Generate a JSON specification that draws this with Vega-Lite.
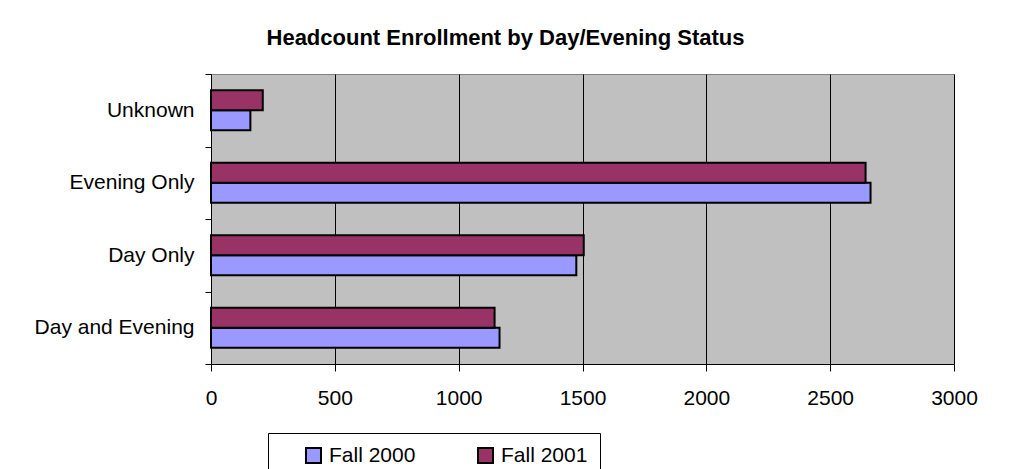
{
  "$schema": "https://vega.github.io/schema/vega-lite/v6.json",
  "width": 743,
  "height": 290,
  "autosize": {"type": "none"},
  "padding": {"left": 211, "top": 74, "right": 56, "bottom": 105},
  "background": "white",
  "title": {
    "text": "Headcount Enrollment by Day/Evening Status",
    "font": "Liberation Sans",
    "fontSize": 22,
    "fontWeight": "bold",
    "color": "black",
    "anchor": "middle",
    "dx": -77,
    "offset": 13
  },
  "data": {
    "values": [
      {"status": "Unknown", "term": "Fall 2000", "count": 159},
      {"status": "Unknown", "term": "Fall 2001", "count": 209},
      {"status": "Evening Only", "term": "Fall 2000", "count": 2663},
      {"status": "Evening Only", "term": "Fall 2001", "count": 2643},
      {"status": "Day Only", "term": "Fall 2000", "count": 1475},
      {"status": "Day Only", "term": "Fall 2001", "count": 1505},
      {"status": "Day and Evening", "term": "Fall 2000", "count": 1165},
      {"status": "Day and Evening", "term": "Fall 2001", "count": 1145}
    ]
  },
  "mark": {"type": "bar", "stroke": "black", "strokeWidth": 2},
  "encoding": {
    "y": {
      "field": "status",
      "type": "nominal",
      "sort": ["Unknown", "Evening Only", "Day Only", "Day and Evening"],
      "scale": {"paddingInner": 0, "paddingOuter": 0},
      "axis": {
        "title": null,
        "tickBand": "extent",
        "tickSize": 6,
        "tickColor": "black",
        "domainColor": "black",
        "labelPadding": 11,
        "labelFont": "Liberation Sans",
        "labelFontSize": 21,
        "labelColor": "black",
        "grid": false
      }
    },
    "yOffset": {
      "field": "term",
      "type": "nominal",
      "sort": ["Fall 2001", "Fall 2000"],
      "scale": {"paddingInner": 0, "paddingOuter": 0.8125}
    },
    "x": {
      "field": "count",
      "type": "quantitative",
      "scale": {"domain": [0, 3000], "nice": false},
      "axis": {
        "title": null,
        "values": [0, 500, 1000, 1500, 2000, 2500, 3000],
        "format": "d",
        "grid": true,
        "gridColor": "black",
        "gridOpacity": 1,
        "gridWidth": 1,
        "tickSize": 7,
        "tickColor": "black",
        "domainColor": "black",
        "labelPadding": 16,
        "labelFlush": false,
        "labelFont": "Liberation Sans",
        "labelFontSize": 21,
        "labelColor": "black"
      }
    },
    "color": {
      "field": "term",
      "type": "nominal",
      "scale": {"domain": ["Fall 2000", "Fall 2001"], "range": ["#9999FF", "#993366"]},
      "legend": {
        "title": null,
        "orient": "none",
        "legendX": 57,
        "legendY": 359,
        "direction": "horizontal",
        "strokeColor": "black",
        "fillColor": "white",
        "padding": 12,
        "symbolType": "square",
        "symbolSize": 225,
        "symbolStrokeColor": "black",
        "symbolStrokeWidth": 2,
        "symbolOpacity": 1,
        "symbolOffset": 23,
        "labelFont": "Liberation Sans",
        "labelFontSize": 21,
        "labelColor": "black",
        "labelOffset": 5,
        "columnPadding": 36
      }
    }
  },
  "config": {
    "view": {"fill": "#C0C0C0", "stroke": "#808080"}
  }
}
